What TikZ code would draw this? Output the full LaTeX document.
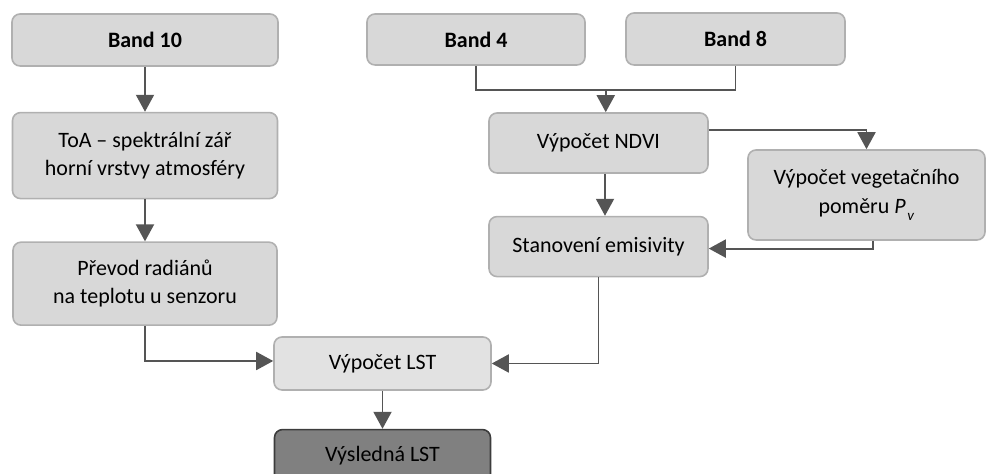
\documentclass[tikz,border=0pt]{standalone}
\usepackage{fontspec}
\setmainfont{Carlito}
\usepackage{tikz}
\usetikzlibrary{positioning,arrows.meta,calc}
\definecolor{boxfill}{HTML}{D8D8D8}
\definecolor{boxline}{HTML}{B0B0B0}
\definecolor{lstfill}{HTML}{E2E2E2}
\definecolor{resfill}{HTML}{808080}
\definecolor{resline}{HTML}{3C3C3C}
\definecolor{flowline}{HTML}{555555}
\tikzset{
  proc/.style={%
      rectangle, rounded corners=0.16cm, draw=boxline, line width=0.9pt, fill=boxfill,
      align=center, inner sep=2pt, font=\fontsize{12.5}{16}\selectfont
  },
  band/.style={proc, font=\fontsize{12.5}{16}\selectfont\bfseries},
  flow/.style={draw=flowline, line width=1.1pt, -{Triangle[length=0.34cm, width=0.36cm]}},
  plain/.style={draw=flowline, line width=1.1pt}
}
\newcommand{\subv}{\kern1pt\raisebox{-0.7ex}{\fontsize{8.5}{9}\selectfont\textit{v}}}
\begin{document}
\begin{tikzpicture}
    \useasboundingbox (0,0) rectangle (19.76,-9.48);

    % left column
    \node[band, minimum width=5.32cm, minimum height=1.04cm] (band10) at (2.9,-0.8) {Band 10};
    \node[proc, minimum width=5.3cm, minimum height=1.72cm]  (toa)    [below=0.9cm of band10]
        {ToA -- spektrální zář\\horní vrstvy atmosféry};
    \node[proc, minimum width=5.28cm, minimum height=1.66cm] (prevod) [below=0.84cm of toa]
        {Převod radiánů\\na teplotu u senzoru};

    % right part
    \node[band, minimum width=4.36cm, minimum height=1.02cm] (band4) at (9.52,-0.79) {Band 4};
    \node[band, minimum width=4.38cm, minimum height=1.04cm] (band8) at (14.71,-0.78) {Band 8};
    \node[proc, minimum width=4.38cm, minimum height=1.2cm]  (ndvi)  at (11.97,-2.86) {Výpočet NDVI};
    \node[proc, minimum width=4.74cm, minimum height=1.8cm]  (veg)   at (17.33,-3.9)
        {Výpočet vegetačního\\poměru \textit{P}\subv};
    \node[proc, minimum width=4.38cm, minimum height=1.2cm]  (emis)  [below=0.84cm of ndvi] {Stanovení emisivity};

    % bottom
    \node[proc, fill=lstfill, minimum width=4.34cm, minimum height=1.06cm] (lst) at (7.65,-7.27) {Výpočet LST};
    \node[proc, fill=resfill, draw=resline, minimum width=4.32cm, minimum height=1.06cm] (result)
        [below=0.76cm of lst] {Výsledná LST};

    \coordinate (join) at ($(band4.south)!0.5!(band8.south) + (0,-0.48)$);

    \path[flow] (band10) -- (toa);
    \path[flow] (toa) -- (prevod);
    \path[flow] (prevod.south) |- ([yshift=0.05cm]lst.west);
    \path[plain] (band4.south) |- (join) -| (band8.south);
    \path[flow] (join) -- (join |- ndvi.north);
    \path[flow] ([yshift=0.26cm]ndvi.east) -| (veg.north);
    \path[flow] ([xshift=0.13cm]ndvi.south) -- ([xshift=0.13cm]emis.north);
    \path[flow] ([xshift=0.13cm]veg.south) |- ([yshift=-0.04cm]emis.east);
    \path[flow] (emis.south) |- (lst.east);
    \path[flow] (lst) -- (result);
\end{tikzpicture}
\end{document}
